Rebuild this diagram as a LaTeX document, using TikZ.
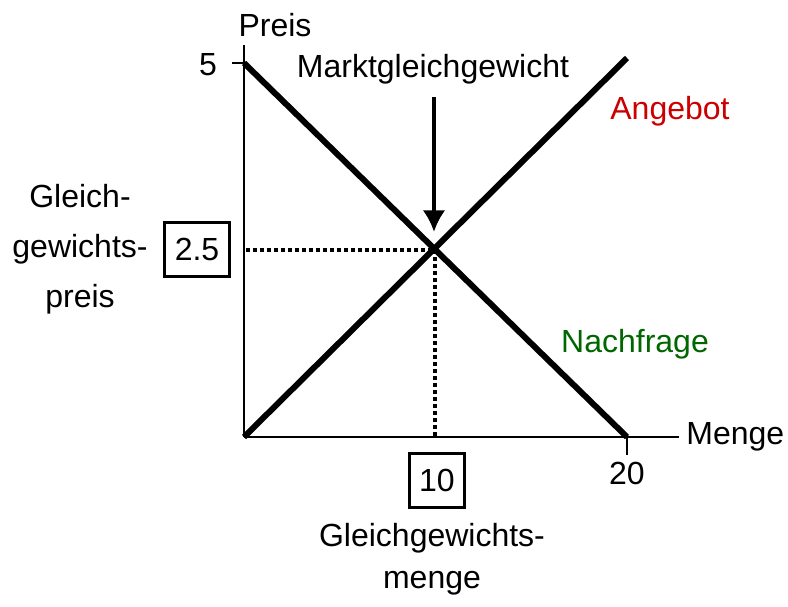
\documentclass[tikz,border=0pt]{standalone}
\usepackage{fontspec}
\setmainfont{Liberation Sans}
\usetikzlibrary{arrows.meta}
\definecolor{angebotrot}{RGB}{204,0,0}
\definecolor{nachfragegruen}{RGB}{0,102,0}

\begin{document}
\begin{tikzpicture}[x=0.5pt, y=0.5pt, font=\fontsize{16}{19}\selectfont,
    achse/.style={line width=0.75pt},
    kurve/.style={line width=3pt},
    hilfslinie/.style={line width=2pt, dash pattern=on 2pt off 1.5pt},
    wertbox/.style={draw, line width=1.5pt, inner sep=5pt, minimum height=27pt}]
    \useasboundingbox (-244,-169) rectangle (544,437);
    \coordinate (O) at (0, 0);
    \coordinate (ytop) at (0, 392);
    \coordinate (xend) at (435, 0);
    \coordinate (p5) at (0, 374);
    \coordinate (p5tick) at (-12, 374);
    \coordinate (m20) at (383, 0);
    \coordinate (m20tick) at (383, -18);
    \coordinate (aend) at (383, 379);
    \coordinate (gg) at (191.5, 187);
    \coordinate (ggx) at (191.5, 0);
    \coordinate (ggy) at (2, 187);
    \coordinate (pfeilspitze) at (190, 205);
    \draw[achse] (O) -- (ytop);
    \draw[achse] (O) -- (xend) node[anchor=west] (menge) {Menge};
    \draw[achse] (p5tick) -- (p5);
    \draw[achse] (m20) -- (m20tick) node[anchor=north, inner sep=3pt] (zwanzig) {20};
    \node (preis) at (31, 412) {Preis};
    \node (fuenf) at (-36, 372) {5};
    \draw[kurve] (p5) -- (m20);
    \draw[kurve] (O) -- (aend);
    \draw[hilfslinie] (ggy) -- (gg);
    \draw[hilfslinie] (gg) -- (ggx);
    \node[anchor=base] (markt) at (189, 359) {Marktgleichgewicht};
    \draw[line width=2pt, -{Latex[length=3.8mm, width=4mm]}] (190, 340) -- (pfeilspitze);
    \node[anchor=base, text=angebotrot] (angebot) at (426, 317) {Angebot};
    \node[anchor=base, text=nachfragegruen] (nachfrage) at (391, 85) {Nachfrage};
    \node[wertbox] (preiswert) at (-47, 188) {2.5};
    \node[wertbox] (mengenwert) at (193, -43) {10};
    \node[anchor=base, align=center, font=\fontsize{16}{25}\selectfont] (gpreis) at (-164, 130) {Gleich-\\gewichts-\\preis};
    \node[anchor=base, align=center, font=\fontsize{16}{21}\selectfont] (gmenge) at (188, -151) {Gleichgewichts-\\menge};
\end{tikzpicture}
\end{document}
